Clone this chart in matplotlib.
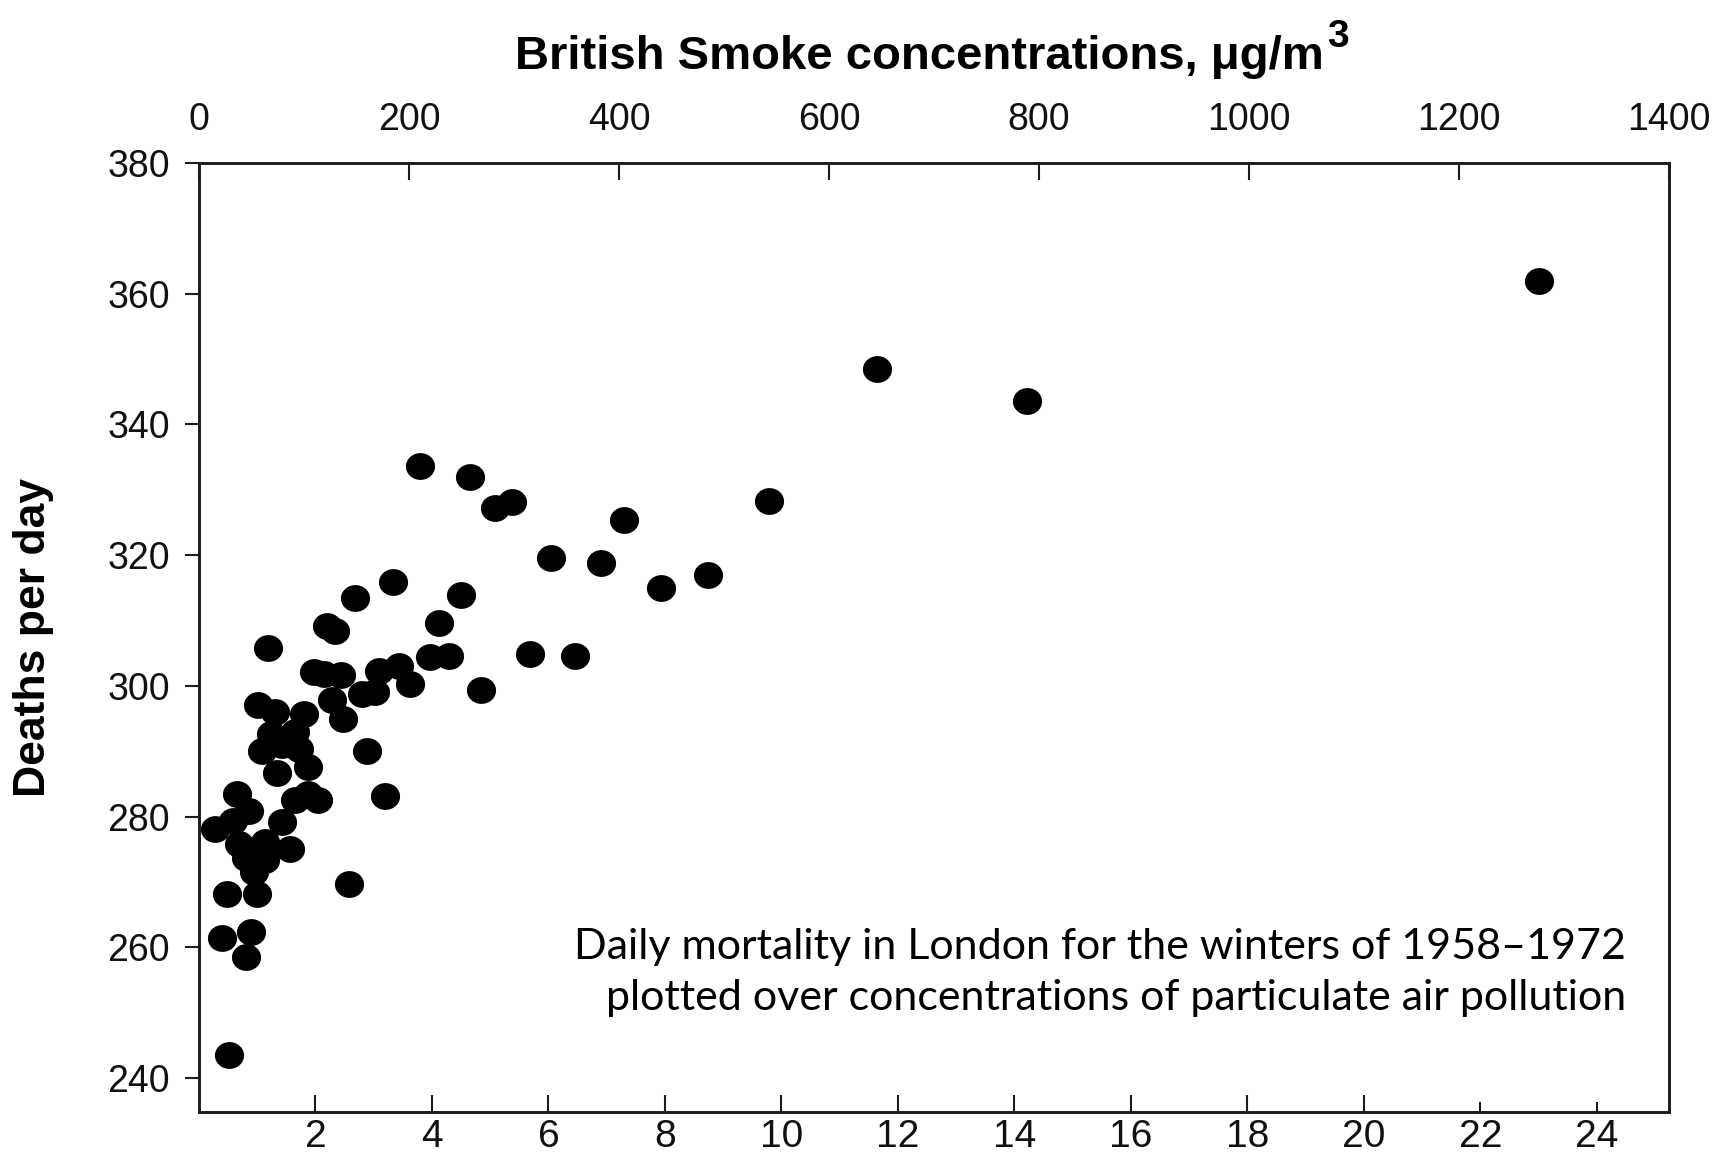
import numpy as np
import matplotlib
matplotlib.use("Agg")
import matplotlib.pyplot as plt
from matplotlib.path import Path

# smoke (bottom axis units) and deaths per day
smoke = [23.0, 11.64, 14.21, 3.80, 4.66, 5.09, 5.38, 7.30, 9.79, 6.04,
         6.91, 7.94, 8.74, 3.33, 2.67, 4.49, 4.12, 2.20, 2.34, 5.68,
         6.45, 3.97, 4.29, 1.18, 1.97, 2.14, 2.43, 3.09, 3.43, 3.63,
         2.80, 3.03, 2.28, 2.48, 4.84, 1.02, 1.31, 1.80, 1.23, 1.65,
         1.08, 1.42, 1.71, 1.34, 1.88, 2.88, 0.65, 0.85, 1.65, 1.88,
         2.05, 1.42, 3.20, 0.28, 0.59, 0.68, 1.14, 1.57, 0.80, 1.14,
         0.94, 0.48, 0.99, 2.57, 0.39, 0.89, 0.80, 0.51]
deaths = [361.9, 348.5, 343.6, 333.6, 331.9, 327.2, 328.1, 325.4, 328.3, 319.5,
          318.8, 315.0, 316.9, 315.9, 313.4, 313.9, 309.6, 309.2, 308.4, 304.9,
          304.5, 304.4, 304.5, 305.8, 302.1, 301.8, 301.6, 302.3, 303.1, 300.3,
          298.8, 299.0, 297.8, 295.0, 299.4, 297.0, 296.0, 295.7, 292.7, 292.9,
          290.1, 290.9, 290.4, 286.6, 287.6, 290.0, 283.5, 280.9, 282.5, 283.5,
          282.5, 279.2, 283.2, 278.1, 279.4, 275.8, 276.1, 275.1, 273.6, 273.3,
          271.5, 268.2, 268.2, 269.7, 261.4, 262.3, 258.5, 243.5]

bottom_ticks = [2, 4, 6, 8, 10, 12, 14, 16, 18, 20, 22, 24]
top_ticks = [0, 200, 400, 600, 800, 1000, 1200, 1400]
y_ticks = [240, 260, 280, 300, 320, 340, 360, 380]

W, H = 1719, 1154
fig = plt.figure(figsize=(W / 100, H / 100), dpi=100)
plt.rcParams['font.family'] = ['Liberation Sans', 'DejaVu Sans']

left, right, top, bottom = 199, 1669, 163, 1112
ax = fig.add_axes([left / W, 1 - bottom / H, (right - left) / W, (bottom - top) / H])

# slightly wide dots like in the picture
t = np.linspace(0, 2 * np.pi, 60)
oval = Path(np.column_stack([np.cos(t), 0.92 * np.sin(t)]))
ax.plot(smoke, deaths, linestyle='none', marker=oval, markersize=21,
        color='black', markeredgewidth=0)

ax.set_xlim(0, 25.24)
ax.set_ylim(234.8, 380)
ax.set_xticks(bottom_ticks)
ax.set_yticks(y_ticks)

dark = '#1c1c1c'
for s in ax.spines.values():
    s.set_linewidth(1.9)
    s.set_color(dark)

ax.tick_params(axis='x', direction='in', length=12, width=1.5, colors=dark,
               labelsize=28, pad=5, labelcolor='#111111')
ax.tick_params(axis='y', direction='out', length=10, width=1.5, colors=dark,
               labelsize=27, pad=11, labelcolor='#111111')
for tk in ax.xaxis.get_major_ticks()[-2:]:
    tk.tick1line.set_markersize(7)

# top axis in micrograms
ax2 = ax.twiny()
ax2.set_xlim(0, 1400)
ax2.set_xticks(top_ticks)
ax2.tick_params(axis='x', direction='in', length=12, width=1.5, colors=dark,
                labelsize=27, pad=18, labelcolor='#111111')
for s in ax2.spines.values():
    s.set_linewidth(1.9)
    s.set_color(dark)

title = fig.text(919 / W, 1 - 69 / H, 'British Smoke concentrations, \u03bcg/m',
                 ha='center', va='baseline', fontsize=34, fontweight='bold')
ax.annotate('3', xy=(1.005, 0.55), xycoords=title, ha='left', va='bottom',
            fontsize=28, fontweight='bold', annotation_clip=False)

fig.text(33 / W, 1 - 637 / H, 'Deaths per day', rotation=90, ha='center',
         va='center', fontsize=32, fontweight='bold')

ax.text(0.9707, 0.10,
        'Daily mortality in London for the winters of 1958\u20131972\n'
        'plotted over concentrations of particulate air pollution',
        transform=ax.transAxes, ha='right', va='bottom', fontsize=31,
        family=['Lato', 'DejaVu Sans'], multialignment='right', linespacing=1.42)

fig.savefig('out.png', dpi=100)
